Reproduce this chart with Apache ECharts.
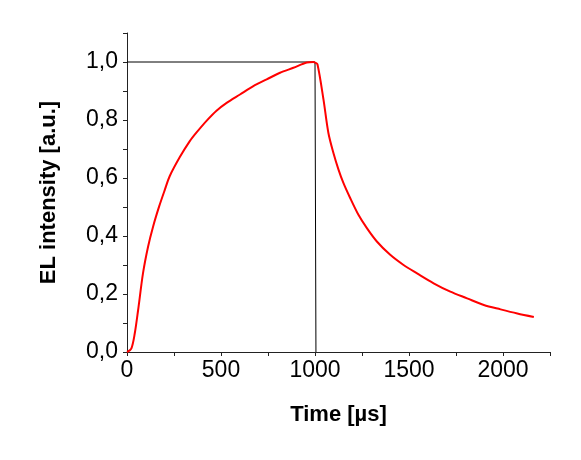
<!DOCTYPE html>
<html>
<head>
<meta charset="utf-8">
<script src="https://cdn.jsdelivr.net/npm/echarts@6/dist/echarts.min.js"></script>
<style>
    html, body { margin: 0; padding: 0; background: #fff; }
    #chart { width: 581px; height: 460px; }
</style>
</head>
<body>
<div id="chart"></div>
<script>
// EL transient (time in µs, intensity in a.u.)
var elTime = [0, 23, 41, 59, 85, 112, 139, 171, 201, 227, 281, 334, 370, 423, 476, 530, 601, 672, 743, 814, 885, 956, 992,
    1000, 1013, 1045, 1071, 1098, 1125, 1151, 1187, 1231, 1276, 1329, 1400, 1471, 1543, 1631, 1720, 1809, 1898, 1987, 2076, 2164];
var elValue = [0, 0.012, 0.063, 0.144, 0.271, 0.363, 0.433, 0.502, 0.559, 0.606, 0.672, 0.727, 0.757, 0.797, 0.832, 0.859, 0.888, 0.917, 0.940, 0.963, 0.980, 0.998, 1.0,
    0.998, 0.992, 0.871, 0.756, 0.686, 0.629, 0.583, 0.531, 0.473, 0.427, 0.381, 0.335, 0.300, 0.271, 0.237, 0.208, 0.185, 0.162, 0.147, 0.133, 0.121];

// voltage pulse outline (black)
var pulseTime = [0, 1000, 1005];
var pulseValue = [1.0, 1.0, 0];

var xTicks = [0, 500, 1000, 1500, 2000];
var yTicks = [0, 0.2, 0.4, 0.6, 0.8, 1.0];

function pairs(xs, ys) {
    return xs.map(function (x, i) { return [x, ys[i]]; });
}

var chart = echarts.init(document.getElementById('chart'));

var axisText = { color: '#000', fontFamily: 'Liberation Sans, Arial', fontSize: 23 };
var axisLineColor = '#222';

var option = {
    animation: false,
    grid: { left: 127, right: 31, top: 33, bottom: 108 },
    xAxis: {
        type: 'value',
        min: 0,
        max: 2250,
        interval: 250,
        name: 'Time [\u00b5s]',
        nameLocation: 'middle',
        nameGap: 52,
        nameTextStyle: { color: '#000', fontFamily: 'Liberation Sans, Arial', fontSize: 22, fontWeight: 'bold' },
        axisLine: { lineStyle: { color: axisLineColor, width: 1 } },
        axisTick: { inside: false, length: 4, lineStyle: { color: axisLineColor } },
        splitLine: { show: false },
        axisLabel: Object.assign({
            margin: 7,
            formatter: function (v) {
                return xTicks.indexOf(v) >= 0 ? String(v) : '';
            }
        }, axisText)
    },
    yAxis: {
        type: 'value',
        min: 0,
        max: 1.1,
        interval: 0.1,
        name: 'EL intensity [a.u.]',
        nameLocation: 'middle',
        nameGap: 67,
        nameTextStyle: { color: '#000', fontFamily: 'Liberation Sans, Arial', fontSize: 22, fontWeight: 'bold' },
        axisLine: { show: true, lineStyle: { color: axisLineColor, width: 1 } },
        axisTick: { show: true, inside: false, length: 4, lineStyle: { color: axisLineColor } },
        splitLine: { show: false },
        axisLabel: Object.assign({
            margin: 9,
            formatter: function (v) {
                var r = Math.round(v * 10) / 10;
                var hit = yTicks.some(function (t) { return Math.abs(t - r) < 1e-6; });
                return hit ? r.toFixed(1).replace('.', ',') : '';
            }
        }, axisText)
    },
    series: [
        {
            name: 'pulse',
            type: 'line',
            data: pairs(pulseTime, pulseValue),
            showSymbol: false,
            lineStyle: { color: '#000', width: 1 },
            z: 2
        },
        {
            name: 'EL',
            type: 'line',
            data: pairs(elTime, elValue),
            showSymbol: false,
            smooth: 0.3,
            lineStyle: { color: '#ff0000', width: 2 },
            z: 3
        }
    ]
};

chart.setOption(option);
</script>
</body>
</html>
